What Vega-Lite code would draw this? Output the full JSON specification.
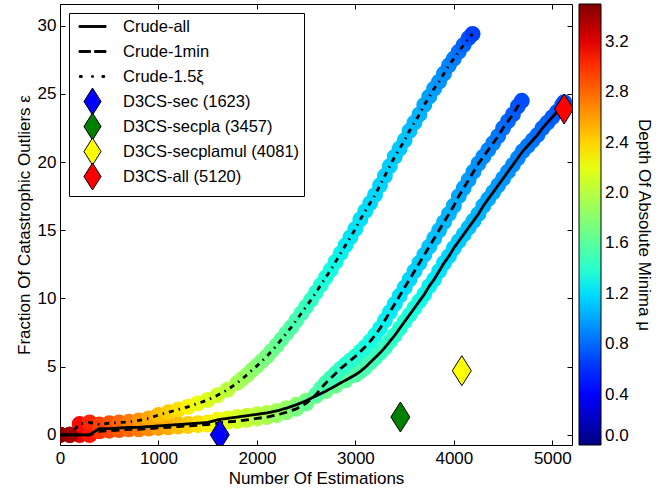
{
  "$schema": "https://vega.github.io/schema/vega-lite/v6.json",
  "width": 512,
  "height": 441,
  "autosize": {"type": "none"},
  "padding": {"left": 60, "top": 4, "right": 99, "bottom": 45},
  "config": {
    "font": "Liberation Sans",
    "view": {"stroke": "black", "strokeWidth": 1},
    "axis": {"labelColor": "black", "titleColor": "black", "tickColor": "black", "domainColor": "black", "labelFontSize": 17, "titleFontSize": 17, "titleFontWeight": "normal", "grid": false, "labelFlush": false},
    "legend": {"labelColor": "black", "titleColor": "black", "rowPadding": -9.5, "symbolStrokeWidth": 1}
  },
  "datasets": {
    "curves": [
      {"series":"Crude-all","x":0,"y":0,"depth":3.5},
      {"series":"Crude-all","x":100,"y":0,"depth":3.35},
      {"series":"Crude-all","x":200,"y":0,"depth":3.2},
      {"series":"Crude-all","x":300,"y":0,"depth":3.1},
      {"series":"Crude-all","x":400,"y":0.45,"depth":3.0},
      {"series":"Crude-all","x":500,"y":0.45,"depth":2.95},
      {"series":"Crude-all","x":600,"y":0.5,"depth":2.9},
      {"series":"Crude-all","x":700,"y":0.55,"depth":2.82},
      {"series":"Crude-all","x":800,"y":0.55,"depth":2.75},
      {"series":"Crude-all","x":900,"y":0.6,"depth":2.7},
      {"series":"Crude-all","x":1000,"y":0.65,"depth":2.65},
      {"series":"Crude-all","x":1100,"y":0.7,"depth":2.58},
      {"series":"Crude-all","x":1200,"y":0.75,"depth":2.52},
      {"series":"Crude-all","x":1300,"y":0.8,"depth":2.45},
      {"series":"Crude-all","x":1400,"y":0.85,"depth":2.4},
      {"series":"Crude-all","x":1500,"y":0.9,"depth":2.33},
      {"series":"Crude-all","x":1600,"y":1.1,"depth":2.27},
      {"series":"Crude-all","x":1700,"y":1.2,"depth":2.2},
      {"series":"Crude-all","x":1800,"y":1.3,"depth":2.14},
      {"series":"Crude-all","x":1900,"y":1.4,"depth":2.08},
      {"series":"Crude-all","x":2000,"y":1.5,"depth":2.02},
      {"series":"Crude-all","x":2100,"y":1.6,"depth":1.97},
      {"series":"Crude-all","x":2200,"y":1.75,"depth":1.92},
      {"series":"Crude-all","x":2300,"y":1.95,"depth":1.87},
      {"series":"Crude-all","x":2400,"y":2.2,"depth":1.82},
      {"series":"Crude-all","x":2500,"y":2.5,"depth":1.78},
      {"series":"Crude-all","x":2600,"y":2.85,"depth":1.74},
      {"series":"Crude-all","x":2700,"y":3.2,"depth":1.7},
      {"series":"Crude-all","x":2800,"y":3.6,"depth":1.66},
      {"series":"Crude-all","x":2900,"y":4.0,"depth":1.62},
      {"series":"Crude-all","x":3000,"y":4.4,"depth":1.58},
      {"series":"Crude-all","x":3050,"y":4.65,"depth":1.56},
      {"series":"Crude-all","x":3100,"y":4.95,"depth":1.54},
      {"series":"Crude-all","x":3150,"y":5.3,"depth":1.52},
      {"series":"Crude-all","x":3200,"y":5.65,"depth":1.5},
      {"series":"Crude-all","x":3250,"y":6.0,"depth":1.47},
      {"series":"Crude-all","x":3300,"y":6.4,"depth":1.45},
      {"series":"Crude-all","x":3350,"y":6.85,"depth":1.43},
      {"series":"Crude-all","x":3400,"y":7.3,"depth":1.41},
      {"series":"Crude-all","x":3450,"y":7.8,"depth":1.38},
      {"series":"Crude-all","x":3500,"y":8.3,"depth":1.36},
      {"series":"Crude-all","x":3550,"y":8.8,"depth":1.34},
      {"series":"Crude-all","x":3600,"y":9.3,"depth":1.32},
      {"series":"Crude-all","x":3650,"y":9.8,"depth":1.3},
      {"series":"Crude-all","x":3700,"y":10.3,"depth":1.28},
      {"series":"Crude-all","x":3750,"y":10.9,"depth":1.26},
      {"series":"Crude-all","x":3800,"y":11.4,"depth":1.24},
      {"series":"Crude-all","x":3850,"y":12.0,"depth":1.22},
      {"series":"Crude-all","x":3900,"y":12.6,"depth":1.2},
      {"series":"Crude-all","x":3950,"y":13.1,"depth":1.18},
      {"series":"Crude-all","x":4000,"y":13.7,"depth":1.16},
      {"series":"Crude-all","x":4050,"y":14.2,"depth":1.14},
      {"series":"Crude-all","x":4100,"y":14.7,"depth":1.12},
      {"series":"Crude-all","x":4150,"y":15.2,"depth":1.1},
      {"series":"Crude-all","x":4200,"y":15.7,"depth":1.08},
      {"series":"Crude-all","x":4250,"y":16.2,"depth":1.06},
      {"series":"Crude-all","x":4300,"y":16.8,"depth":1.04},
      {"series":"Crude-all","x":4350,"y":17.3,"depth":1.02},
      {"series":"Crude-all","x":4400,"y":17.8,"depth":1.0},
      {"series":"Crude-all","x":4450,"y":18.3,"depth":0.98},
      {"series":"Crude-all","x":4500,"y":18.8,"depth":0.96},
      {"series":"Crude-all","x":4550,"y":19.3,"depth":0.94},
      {"series":"Crude-all","x":4600,"y":19.8,"depth":0.92},
      {"series":"Crude-all","x":4650,"y":20.3,"depth":0.9},
      {"series":"Crude-all","x":4700,"y":20.8,"depth":0.88},
      {"series":"Crude-all","x":4750,"y":21.2,"depth":0.86},
      {"series":"Crude-all","x":4800,"y":21.6,"depth":0.84},
      {"series":"Crude-all","x":4850,"y":22.0,"depth":0.82},
      {"series":"Crude-all","x":4900,"y":22.5,"depth":0.8},
      {"series":"Crude-all","x":4950,"y":22.9,"depth":0.78},
      {"series":"Crude-all","x":5000,"y":23.3,"depth":0.76},
      {"series":"Crude-all","x":5050,"y":23.7,"depth":0.74},
      {"series":"Crude-all","x":5100,"y":24.2,"depth":0.72},
      {"series":"Crude-all","x":5120,"y":24.4,"depth":0.7},
      {"series":"Crude-1min","x":0,"y":0,"depth":3.5},
      {"series":"Crude-1min","x":100,"y":0,"depth":3.35},
      {"series":"Crude-1min","x":200,"y":0,"depth":3.2},
      {"series":"Crude-1min","x":300,"y":0,"depth":3.1},
      {"series":"Crude-1min","x":400,"y":0.25,"depth":3.0},
      {"series":"Crude-1min","x":500,"y":0.3,"depth":2.93},
      {"series":"Crude-1min","x":600,"y":0.35,"depth":2.86},
      {"series":"Crude-1min","x":700,"y":0.4,"depth":2.8},
      {"series":"Crude-1min","x":800,"y":0.4,"depth":2.73},
      {"series":"Crude-1min","x":900,"y":0.45,"depth":2.67},
      {"series":"Crude-1min","x":1000,"y":0.5,"depth":2.6},
      {"series":"Crude-1min","x":1100,"y":0.55,"depth":2.54},
      {"series":"Crude-1min","x":1200,"y":0.6,"depth":2.48},
      {"series":"Crude-1min","x":1300,"y":0.65,"depth":2.42},
      {"series":"Crude-1min","x":1400,"y":0.7,"depth":2.36},
      {"series":"Crude-1min","x":1500,"y":0.75,"depth":2.3},
      {"series":"Crude-1min","x":1600,"y":0.85,"depth":2.24},
      {"series":"Crude-1min","x":1700,"y":0.95,"depth":2.18},
      {"series":"Crude-1min","x":1800,"y":1.0,"depth":2.12},
      {"series":"Crude-1min","x":1900,"y":1.1,"depth":2.06},
      {"series":"Crude-1min","x":2000,"y":1.2,"depth":2.0},
      {"series":"Crude-1min","x":2100,"y":1.3,"depth":1.94},
      {"series":"Crude-1min","x":2200,"y":1.45,"depth":1.87},
      {"series":"Crude-1min","x":2300,"y":1.65,"depth":1.8},
      {"series":"Crude-1min","x":2400,"y":1.9,"depth":1.73},
      {"series":"Crude-1min","x":2500,"y":2.3,"depth":1.66},
      {"series":"Crude-1min","x":2600,"y":2.95,"depth":1.58},
      {"series":"Crude-1min","x":2650,"y":3.4,"depth":1.55},
      {"series":"Crude-1min","x":2700,"y":3.8,"depth":1.52},
      {"series":"Crude-1min","x":2750,"y":4.15,"depth":1.49},
      {"series":"Crude-1min","x":2800,"y":4.5,"depth":1.46},
      {"series":"Crude-1min","x":2850,"y":4.85,"depth":1.43},
      {"series":"Crude-1min","x":2900,"y":5.15,"depth":1.41},
      {"series":"Crude-1min","x":2950,"y":5.45,"depth":1.39},
      {"series":"Crude-1min","x":3000,"y":5.75,"depth":1.37},
      {"series":"Crude-1min","x":3050,"y":6.1,"depth":1.35},
      {"series":"Crude-1min","x":3100,"y":6.45,"depth":1.33},
      {"series":"Crude-1min","x":3150,"y":6.85,"depth":1.31},
      {"series":"Crude-1min","x":3200,"y":7.3,"depth":1.3},
      {"series":"Crude-1min","x":3250,"y":7.8,"depth":1.28},
      {"series":"Crude-1min","x":3300,"y":8.4,"depth":1.26},
      {"series":"Crude-1min","x":3350,"y":9.0,"depth":1.25},
      {"series":"Crude-1min","x":3400,"y":9.6,"depth":1.23},
      {"series":"Crude-1min","x":3450,"y":10.2,"depth":1.22},
      {"series":"Crude-1min","x":3500,"y":10.8,"depth":1.2},
      {"series":"Crude-1min","x":3550,"y":11.4,"depth":1.18},
      {"series":"Crude-1min","x":3600,"y":12.0,"depth":1.17},
      {"series":"Crude-1min","x":3650,"y":12.6,"depth":1.15},
      {"series":"Crude-1min","x":3700,"y":13.2,"depth":1.14},
      {"series":"Crude-1min","x":3750,"y":13.8,"depth":1.12},
      {"series":"Crude-1min","x":3800,"y":14.4,"depth":1.11},
      {"series":"Crude-1min","x":3850,"y":15.0,"depth":1.09},
      {"series":"Crude-1min","x":3900,"y":15.6,"depth":1.08},
      {"series":"Crude-1min","x":3950,"y":16.2,"depth":1.06},
      {"series":"Crude-1min","x":4000,"y":16.8,"depth":1.04},
      {"series":"Crude-1min","x":4050,"y":17.5,"depth":1.02},
      {"series":"Crude-1min","x":4100,"y":18.1,"depth":1.0},
      {"series":"Crude-1min","x":4150,"y":18.7,"depth":0.98},
      {"series":"Crude-1min","x":4200,"y":19.3,"depth":0.96},
      {"series":"Crude-1min","x":4250,"y":19.9,"depth":0.94},
      {"series":"Crude-1min","x":4300,"y":20.4,"depth":0.92},
      {"series":"Crude-1min","x":4350,"y":20.9,"depth":0.9},
      {"series":"Crude-1min","x":4400,"y":21.4,"depth":0.88},
      {"series":"Crude-1min","x":4450,"y":21.9,"depth":0.85},
      {"series":"Crude-1min","x":4500,"y":22.5,"depth":0.82},
      {"series":"Crude-1min","x":4550,"y":23.0,"depth":0.79},
      {"series":"Crude-1min","x":4600,"y":23.5,"depth":0.76},
      {"series":"Crude-1min","x":4650,"y":24.1,"depth":0.73},
      {"series":"Crude-1min","x":4690,"y":24.5,"depth":0.7},
      {"series":"Crude-1.5ξ","x":0,"y":0,"depth":3.5},
      {"series":"Crude-1.5ξ","x":100,"y":0,"depth":3.4},
      {"series":"Crude-1.5ξ","x":200,"y":0.8,"depth":3.15},
      {"series":"Crude-1.5ξ","x":300,"y":0.9,"depth":3.05},
      {"series":"Crude-1.5ξ","x":400,"y":0.75,"depth":2.95},
      {"series":"Crude-1.5ξ","x":500,"y":0.85,"depth":2.88},
      {"series":"Crude-1.5ξ","x":600,"y":0.9,"depth":2.8},
      {"series":"Crude-1.5ξ","x":700,"y":0.95,"depth":2.72},
      {"series":"Crude-1.5ξ","x":800,"y":1.05,"depth":2.64},
      {"series":"Crude-1.5ξ","x":900,"y":1.2,"depth":2.56},
      {"series":"Crude-1.5ξ","x":1000,"y":1.45,"depth":2.48},
      {"series":"Crude-1.5ξ","x":1100,"y":1.65,"depth":2.42},
      {"series":"Crude-1.5ξ","x":1200,"y":1.85,"depth":2.35},
      {"series":"Crude-1.5ξ","x":1300,"y":2.05,"depth":2.28},
      {"series":"Crude-1.5ξ","x":1400,"y":2.3,"depth":2.22},
      {"series":"Crude-1.5ξ","x":1500,"y":2.55,"depth":2.16},
      {"series":"Crude-1.5ξ","x":1600,"y":2.9,"depth":2.1},
      {"series":"Crude-1.5ξ","x":1700,"y":3.3,"depth":2.02},
      {"series":"Crude-1.5ξ","x":1800,"y":3.8,"depth":1.95},
      {"series":"Crude-1.5ξ","x":1850,"y":4.1,"depth":1.91},
      {"series":"Crude-1.5ξ","x":1900,"y":4.4,"depth":1.88},
      {"series":"Crude-1.5ξ","x":1950,"y":4.75,"depth":1.84},
      {"series":"Crude-1.5ξ","x":2000,"y":5.05,"depth":1.8},
      {"series":"Crude-1.5ξ","x":2050,"y":5.4,"depth":1.76},
      {"series":"Crude-1.5ξ","x":2100,"y":5.75,"depth":1.73},
      {"series":"Crude-1.5ξ","x":2150,"y":6.15,"depth":1.7},
      {"series":"Crude-1.5ξ","x":2200,"y":6.55,"depth":1.67},
      {"series":"Crude-1.5ξ","x":2250,"y":7.0,"depth":1.63},
      {"series":"Crude-1.5ξ","x":2300,"y":7.45,"depth":1.6},
      {"series":"Crude-1.5ξ","x":2350,"y":7.9,"depth":1.56},
      {"series":"Crude-1.5ξ","x":2400,"y":8.4,"depth":1.53},
      {"series":"Crude-1.5ξ","x":2450,"y":8.9,"depth":1.5},
      {"series":"Crude-1.5ξ","x":2500,"y":9.4,"depth":1.47},
      {"series":"Crude-1.5ξ","x":2550,"y":9.9,"depth":1.43},
      {"series":"Crude-1.5ξ","x":2600,"y":10.45,"depth":1.4},
      {"series":"Crude-1.5ξ","x":2650,"y":11.0,"depth":1.37},
      {"series":"Crude-1.5ξ","x":2700,"y":11.55,"depth":1.34},
      {"series":"Crude-1.5ξ","x":2750,"y":12.1,"depth":1.31},
      {"series":"Crude-1.5ξ","x":2800,"y":12.7,"depth":1.29},
      {"series":"Crude-1.5ξ","x":2850,"y":13.3,"depth":1.27},
      {"series":"Crude-1.5ξ","x":2900,"y":13.9,"depth":1.25},
      {"series":"Crude-1.5ξ","x":2950,"y":14.5,"depth":1.23},
      {"series":"Crude-1.5ξ","x":3000,"y":15.1,"depth":1.22},
      {"series":"Crude-1.5ξ","x":3050,"y":15.8,"depth":1.21},
      {"series":"Crude-1.5ξ","x":3100,"y":16.4,"depth":1.2},
      {"series":"Crude-1.5ξ","x":3150,"y":17.0,"depth":1.19},
      {"series":"Crude-1.5ξ","x":3200,"y":17.6,"depth":1.18},
      {"series":"Crude-1.5ξ","x":3250,"y":18.3,"depth":1.17},
      {"series":"Crude-1.5ξ","x":3300,"y":19.0,"depth":1.16},
      {"series":"Crude-1.5ξ","x":3350,"y":19.7,"depth":1.15},
      {"series":"Crude-1.5ξ","x":3400,"y":20.4,"depth":1.14},
      {"series":"Crude-1.5ξ","x":3450,"y":21.0,"depth":1.13},
      {"series":"Crude-1.5ξ","x":3500,"y":21.6,"depth":1.12},
      {"series":"Crude-1.5ξ","x":3550,"y":22.3,"depth":1.1},
      {"series":"Crude-1.5ξ","x":3600,"y":22.9,"depth":1.08},
      {"series":"Crude-1.5ξ","x":3650,"y":23.5,"depth":1.06},
      {"series":"Crude-1.5ξ","x":3700,"y":24.2,"depth":1.03},
      {"series":"Crude-1.5ξ","x":3750,"y":24.8,"depth":1.0},
      {"series":"Crude-1.5ξ","x":3800,"y":25.4,"depth":0.98},
      {"series":"Crude-1.5ξ","x":3850,"y":25.9,"depth":0.95},
      {"series":"Crude-1.5ξ","x":3900,"y":26.5,"depth":0.93},
      {"series":"Crude-1.5ξ","x":3950,"y":27.1,"depth":0.9},
      {"series":"Crude-1.5ξ","x":4000,"y":27.6,"depth":0.87},
      {"series":"Crude-1.5ξ","x":4050,"y":28.1,"depth":0.83},
      {"series":"Crude-1.5ξ","x":4100,"y":28.6,"depth":0.78},
      {"series":"Crude-1.5ξ","x":4150,"y":29.1,"depth":0.72},
      {"series":"Crude-1.5ξ","x":4190,"y":29.4,"depth":0.66}
    ],
    "diamonds": [
      {"series":"D3CS-sec (1623)","x":1623,"y":0.0},
      {"series":"D3CS-secpla (3457)","x":3457,"y":1.3},
      {"series":"D3CS-secplamul (4081)","x":4081,"y":4.7},
      {"series":"D3CS-all (5120)","x":5120,"y":23.9}
    ]
  },
  "resolve": {"axis": {"x": "independent", "y": "independent"}},
  "layer": [
    {
      "data": {"name": "curves"},
      "mark": {"type": "circle", "size": 254, "opacity": 1, "clip": true},
      "encoding": {
        "x": {"field": "x", "type": "quantitative", "scale": {"domain": [0, 5200], "nice": false, "zero": false},
          "axis": {"orient": "bottom", "values": [0,1000,2000,3000,4000,5000], "format": "d", "title": "Number Of Estimations", "tickSize": -5, "labelPadding": 10, "titlePadding": 4, "domain": false}},
        "y": {"field": "y", "type": "quantitative", "scale": {"domain": [-0.75, 31.6], "nice": false, "zero": false},
          "axis": {"orient": "left", "values": [0,5,10,15,20,25,30], "title": "Fraction Of Catastrophic Outliers ε", "tickSize": -5, "labelPadding": 9, "titlePadding": 4, "domain": false}},
        "color": {"field": "depth", "type": "quantitative",
          "scale": {"domain": [0,0.385,0.4375,1.19,1.225,1.3125,2.24,2.275,2.31,3.115,3.185,3.5],
                    "range": ["#000080","#0000ff","#0000ff","#00dbff","#00e6f7","#15ffe2","#efff08","#f7f500","#ffec00","#ff1300","#e80000","#800000"],
                    "interpolate": "rgb", "nice": false, "zero": false},
          "legend": {"orient": "right", "offset": 6, "padding": 0, "direction": "vertical", "gradientLength": 441, "gradientThickness": 22,
            "gradientStrokeColor": "black", "gradientStrokeWidth": 1, "values": [0,0.4,0.8,1.2,1.6,2.0,2.4,2.8,3.2], "format": ".1f",
            "labelFontSize": 17, "labelOffset": 4, "labelOverlap": false, "labelBaseline": "middle",
            "title": "Depth Of Absolute Minima μ", "titleOrient": "right", "titleAnchor": "middle", "titleLimit": 600,
            "titleFontSize": 17, "titleFontWeight": "normal", "titlePadding": 6,
            "encode": {"title": {"update": {"angle": {"value": 270}, "baseline": {"value": "top"}}}}}}
      }
    },
    {
      "data": {"name": "curves"},
      "mark": {"type": "line", "color": "black", "strokeWidth": 2.8, "clip": true},
      "encoding": {
        "x": {"field": "x", "type": "quantitative", "axis": null},
        "y": {"field": "y", "type": "quantitative", "axis": null},
        "strokeDash": {"field": "series", "type": "nominal",
          "scale": {"domain": ["Crude-all","Crude-1min","Crude-1.5ξ"], "range": [[1,0],[8,5],[5,5,1.5,5]]}, "legend": null}
      }
    },
    {
      "data": {"name": "diamonds"},
      "mark": {"type": "point", "filled": true, "size": 400, "stroke": "black", "strokeWidth": 1, "opacity": 1, "clip": true},
      "encoding": {
        "x": {"field": "x", "type": "quantitative",
          "axis": {"orient": "top", "values": [0,1000,2000,3000,4000,5000], "labels": false, "title": null, "tickSize": -5, "domain": false}},
        "y": {"field": "y", "type": "quantitative",
          "axis": {"orient": "right", "values": [0,5,10,15,20,25,30], "labels": false, "title": null, "tickSize": -5, "domain": false}},
        "shape": {"field": "series", "type": "nominal",
          "scale": {"domain": ["Crude-all","Crude-1min","Crude-1.5ξ","D3CS-sec (1623)","D3CS-secpla (3457)","D3CS-secplamul (4081)","D3CS-all (5120)"],
                    "range": ["M0,-1.45L0,-1.45M0,1.45L0,1.45M-1.5,-0.1H1.5V0.1H-1.5Z","M0,-1.45L0,-1.45M0,1.45L0,1.45M-1.5,-0.1H-0.22V0.1H-1.5ZM0.22,-0.1H1.5V0.1H0.22Z","M0,-1.45L0,-1.45M0,1.45L0,1.45M-1.45,-0.1H-1.15V0.1H-1.45ZM-0.1,-0.08H0.1V0.08H-0.1ZM1.05,-0.1H1.35V0.1H1.05Z","M0,-1.5L0.95,0L0,1.5L-0.95,0Z","M0,-1.5L0.95,0L0,1.5L-0.95,0Z","M0,-1.5L0.95,0L0,1.5L-0.95,0Z","M0,-1.5L0.95,0L0,1.5L-0.95,0Z"]},
          "legend": {"title": null, "orient": "none", "legendX": 9, "legendY": 9, "padding": 4, "strokeColor": "black", "fillColor": "white", "cornerRadius": 0,
            "labelFontSize": 16.5, "labelLimit": 400, "symbolSize": 324, "symbolOffset": 10, "labelOffset": 21, "rowPadding": -9.5, "symbolStrokeWidth": 1,
            "encode": {"symbols": {"update": {"stroke": {"value": "black"}, "strokeWidth": {"value": 1}}}}}},
        "fill": {"field": "series", "type": "nominal",
          "scale": {"domain": ["Crude-all","Crude-1min","Crude-1.5ξ","D3CS-sec (1623)","D3CS-secpla (3457)","D3CS-secplamul (4081)","D3CS-all (5120)"],
                    "range": ["black","black","black","#0000ff","#008000","#ffff00","#ff0000"]},
          "legend": {"title": null, "orient": "none", "legendX": 9, "legendY": 9, "padding": 4, "strokeColor": "black", "fillColor": "white", "cornerRadius": 0,
            "labelFontSize": 16.5, "labelLimit": 400, "symbolSize": 324, "symbolOffset": 10, "labelOffset": 21, "rowPadding": -9.5, "symbolStrokeWidth": 1,
            "encode": {"symbols": {"update": {"stroke": {"value": "black"}, "strokeWidth": {"value": 1}}}}}}
      }
    }
  ]
}
